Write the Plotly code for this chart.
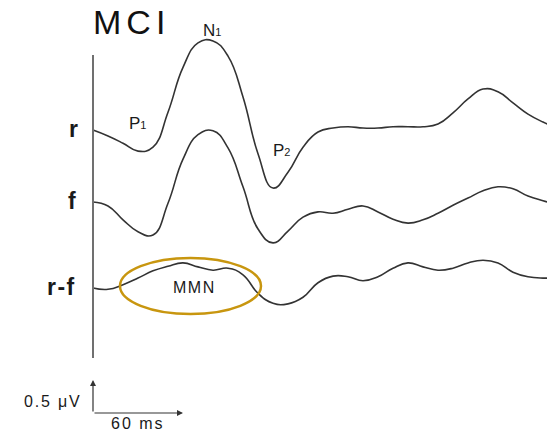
import plotly.graph_objects as go

# ---------------- data (ms, µV; negative plotted upward) ----------------
time_ms = [0, 10, 20, 30, 40, 50, 60, 70, 80, 90, 100, 110, 120, 130, 140, 150,
           160, 170, 180, 190, 200, 210, 220, 230, 240, 250, 260, 270, 280, 290,
           300, 303]
amp_r = [0.00, 0.09, 0.20, 0.32, 0.26, -0.27, -0.95, -1.32, -1.35, -1.12, -0.50,
         0.36, 0.88, 0.64, 0.26, 0.03, -0.03, -0.05, -0.03, -0.03, -0.05, -0.05,
         -0.05, -0.09, -0.26, -0.47, -0.62, -0.58, -0.41, -0.24, -0.12, -0.09]
amp_f = [0.00, 0.06, 0.27, 0.45, 0.50, 0.02, -0.65, -1.02, -1.08, -0.82, -0.23,
         0.41, 0.62, 0.44, 0.23, 0.15, 0.17, 0.11, 0.06, 0.15, 0.26, 0.32, 0.27,
         0.17, 0.05, -0.06, -0.17, -0.23, -0.20, -0.09, -0.02, 0.00]
amp_rf = [0.00, 0.02, -0.05, -0.15, -0.26, -0.33, -0.38, -0.32, -0.27, -0.30,
          -0.20, 0.08, 0.23, 0.24, 0.14, -0.08, -0.18, -0.17, -0.11, -0.17, -0.30,
          -0.38, -0.32, -0.27, -0.30, -0.38, -0.42, -0.38, -0.24, -0.17, -0.15,
          -0.15]

trace_labels = ["r", "f", "r-f"]
scale_uv = 0.5
scale_ms = 60

# ---------------- layout constants ----------------
W, H = 547, 431
PX_MS = 1.5       # pixels per ms
PX_UV = 66.0      # pixels per µV
X0_PX = 93        # stimulus onset pixel
R_BASE_PX = 130
offsets = [0.0, (202 - R_BASE_PX) / PX_UV, (288 - R_BASE_PX) / PX_UV]

x_range = [(0 - X0_PX) / PX_MS, (W - X0_PX) / PX_MS]
y_range = [(H - R_BASE_PX) / PX_UV, (0 - R_BASE_PX) / PX_UV]  # reversed: negative up

def py(v):  # pixel-row -> data y
    return (v - R_BASE_PX) / PX_UV

def px(v):
    return (v - X0_PX) / PX_MS

LINE = "#333333"
FONT = "Liberation Sans, Arial, sans-serif"

fig = go.Figure()
for a, off in zip([amp_r, amp_f, amp_rf], offsets):
    fig.add_trace(go.Scatter(
        x=time_ms, y=[v + off for v in a], mode="lines",
        line=dict(color=LINE, width=1.6, shape="spline", smoothing=1.3),
        hoverinfo="skip", showlegend=False))

shapes = [
    dict(type="line", xref="x", yref="y", x0=0, x1=0, y0=py(55), y1=py(358),
         line=dict(color="#707070", width=2)),
    dict(type="circle", xref="x", yref="y", x0=px(120), x1=px(261),
         y0=py(258), y1=py(314), line=dict(color="#C8960F", width=2.5)),
]

ann = []
def txt(s, x, y, size, weight="normal", xanchor="center", color="#1a1a1a"):
    ann.append(dict(text=s, x=x, y=y, xref="x", yref="y", showarrow=False,
                    xanchor=xanchor, yanchor="middle",
                    font=dict(family=FONT, size=size, color=color, weight=weight)))

def ls(s, px_):
    return f"<span style='letter-spacing:{px_}px'>{s}</span>"

txt(ls("MCI", 5), px(91), py(21.5), 34, xanchor="left", color="#111")
label_x = [px(74), px(72.5), px(61)]
for lab, lx, off in zip(trace_labels, label_x, offsets):
    txt(ls(lab, 1.5), lx, off - 0.02, 23, weight="bold")

sub = "<span style='font-size:11px'>{}</span>"
txt("N" + sub.format("1"), px(211.5), py(30.5), 17)
txt("P" + sub.format("1"), px(137), py(123), 17)
txt("P" + sub.format("2"), px(281.5), py(150), 17)
txt(ls("MMN", 1.5), px(194), py(287.5), 16)
txt(ls("0.5 μV", 1.8), px(52.5), py(401), 16)
txt(ls("60 ms", 2), px(137.5), py(423.5), 16)

# scale bar arrows (data units)
bar_y = py(413)
ann.append(dict(x=0, y=bar_y - scale_uv, ax=0, ay=bar_y, xref="x", yref="y",
                axref="x", ayref="y", text="", showarrow=True, arrowhead=2,
                arrowsize=1, arrowwidth=1.2, arrowcolor="#333"))
ann.append(dict(x=scale_ms, y=bar_y, ax=0, ay=bar_y, xref="x", yref="y",
                axref="x", ayref="y", text="", showarrow=True, arrowhead=2,
                arrowsize=1, arrowwidth=1.2, arrowcolor="#333"))

fig.update_layout(
    width=W, height=H, margin=dict(l=0, r=0, t=0, b=0),
    paper_bgcolor="white", plot_bgcolor="white",
    xaxis=dict(range=x_range, visible=False, fixedrange=True),
    yaxis=dict(range=y_range, visible=False, fixedrange=True),
    shapes=shapes, annotations=ann, showlegend=False,
)
fig.write_html("out.html", config={"displayModeBar": False},
               post_script="document.body.style.margin='0';document.body.style.overflow='hidden';")
